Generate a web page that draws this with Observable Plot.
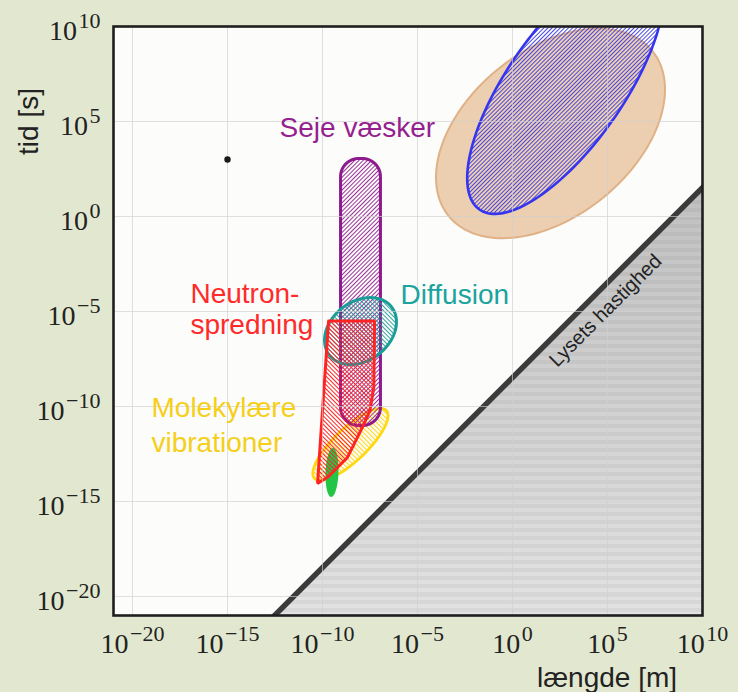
<!DOCTYPE html>
<html><head><meta charset="utf-8">
<script src="https://cdn.jsdelivr.net/npm/d3@7"></script>
<script src="https://cdn.jsdelivr.net/npm/@observablehq/plot@0.6"></script>
<style>
html,body{margin:0;padding:0;background:#e2e8d0;}
#chart{width:738px;height:692px;}
svg{display:block;}
</style></head><body><div id="chart"></div>
<script>
// ---- axes ----
const xDomain = [1e-21, 1e10];
const yDomain = [1e-21, 1e10];
const xTickExponents = [-20, -15, -10, -5, 0, 5, 10];
const yTickExponents = [-20, -15, -10, -5, 0, 5, 10];
const xLabel = "længde [m]";
const yLabel = "tid [s]";

// ---- ellipses (in log10 units: centre, semi-axes, tilt in degrees) ----
const ellipseNames = ["orange", "blue", "yellow", "green", "teal"];
const ellipseCenterLogL = [2.0, 2.79, -8.53, -9.5, -8.0];
const ellipseCenterLogT = [4.37, 6.84, -12.0, -13.47, -6.03];
const ellipseSemiMajor = [6.9, 7.9, 2.6, 1.29, 2.07];
const ellipseSemiMinor = [4.37, 3.05, 0.86, 0.34, 1.55];
const ellipseAngleDeg = [39, 55, 43.5, 88, 37.7];

// ---- viscous liquids: rounded bar (log10 units) ----
const liquidLogL = [-9.05, -6.95];
const liquidLogT = [-11.0, 3.05];
const liquidCornerRadius = 0.95;

// ---- neutron scattering outline (log10 units) ----
const neutronLogL = [-9.68, -7.26, -7.3, -7.5, -7.9, -8.7, -9.7, -10.26];
const neutronLogT = [-5.5, -5.5, -9.0, -10.2, -11.1, -12.7, -13.7, -14.05];

// ---- speed of light ----
const speedOfLight = 3e8;
const lightLengths = [1e-14, 1e11];
const lightLabel = "Lysets hastighed";
const lightLabelLogL = 4.89;
const lightLabelLogT = -4.95;

// ---- single point ----
const pointL = [1e-15];
const pointT = [1e3];

// ---- region labels ----
const labelTexts = ["Seje væsker", "Diffusion", "Neutron-\nspredning", "Molekylære\nvibrationer"];
const labelLogL = [-12.26, -5.89, -16.95, -19.0];
const labelLogT = [4.16, -4.58, -6.16, -12.42];
const labelColors = ["#951f8f", "#1ba39e", "#ff2a2a", "#f5cf1a"];

// ---- helpers to build outlines from the parameters ----
const p10 = v => Math.pow(10, v);
function ellipse(i) {
  const cx = ellipseCenterLogL[i], cy = ellipseCenterLogT[i];
  const a = ellipseSemiMajor[i], b = ellipseSemiMinor[i];
  const th = ellipseAngleDeg[i] * Math.PI / 180;
  const pts = [];
  for (let k = 0; k <= 160; k++) {
    const s = 2 * Math.PI * k / 160;
    const x = cx + a * Math.cos(s) * Math.cos(th) - b * Math.sin(s) * Math.sin(th);
    const y = cy + a * Math.cos(s) * Math.sin(th) + b * Math.sin(s) * Math.cos(th);
    pts.push({L: p10(x), t: p10(y)});
  }
  return pts;
}
function roundedBar() {
  const [x0, x1] = liquidLogL, [y0, y1] = liquidLogT, r = liquidCornerRadius;
  const pts = [];
  const corners = [
    [x1 - r, y1 - r, 0], [x0 + r, y1 - r, 90], [x0 + r, y0 + r, 180], [x1 - r, y0 + r, 270]
  ];
  for (const [cx, cy, a0] of corners) {
    for (let k = 0; k <= 20; k++) {
      const a = (a0 + 90 * k / 20) * Math.PI / 180;
      pts.push({L: p10(cx + r * Math.cos(a)), t: p10(cy + r * Math.sin(a))});
    }
  }
  pts.push(pts[0]);
  return pts;
}
const neutronPts = neutronLogL.map((l, i) => ({L: p10(l), t: p10(neutronLogT[i])}));
neutronPts.push(neutronPts[0]);

const expStr = e => "10^" + (e < 0 ? "\u2212" + (-e) : String(e));
const xTicks = xTickExponents.map(p10);
const yTicks = yTickExponents.map(p10);

const shapeStyle = {x: "L", y: "t", curve: "linear"};
const labelData = labelTexts.map((s, i) => ({s, L: p10(labelLogL[i]), t: p10(labelLogT[i]), c: labelColors[i]}));

const plot = Plot.plot({
  width: 738, height: 692,
  marginLeft: 113, marginRight: 36, marginTop: 26, marginBottom: 77,
  style: {background: "transparent", fontFamily: "Liberation Sans"},
  x: {type: "log", domain: xDomain},
  y: {type: "log", domain: yDomain},
  marks: [
    Plot.frame({fill: "#fcfcfb", stroke: "none"}),
    // region faster than light
    Plot.areaY([speedOfLight * yDomain[0], xDomain[1]], {x: d => d, y1: yDomain[0], y2: d => d / speedOfLight, fill: "url(#grayGrad)", clip: true}),
    Plot.areaY([speedOfLight * yDomain[0], xDomain[1]], {x: d => d, y1: yDomain[0], y2: d => d / speedOfLight, fill: "url(#stripes)", clip: true}),
    Plot.line(lightLengths, {x: d => d, y: d => d / speedOfLight, stroke: "#3b3b3b", strokeWidth: 5.5, clip: true}),
    // regions
    Plot.line(ellipse(0), {...shapeStyle, fill: "#ecceb1", stroke: "#e0b185", strokeWidth: 2, clip: true}),
    Plot.line(ellipse(1), {...shapeStyle, fill: "url(#hatchBlue)", stroke: "#3535f0", strokeWidth: 2.6, clip: true}),
    Plot.line(ellipse(2), {...shapeStyle, fill: "url(#hatchYellow)", stroke: "#ffd814", strokeWidth: 2.8}),
    Plot.line(ellipse(3), {...shapeStyle, fill: "#22c545", stroke: "none"}),
    Plot.line(roundedBar(), {...shapeStyle, fill: "url(#hatchPurple)", stroke: "#8e1b8e", strokeWidth: 3}),
    Plot.line(ellipse(4), {...shapeStyle, fill: "url(#hatchTeal)", stroke: "#1a9c98", strokeWidth: 3}),
    Plot.line(neutronPts, {...shapeStyle, fill: "url(#hatchRed)", stroke: "#ff2424", strokeWidth: 3, strokeLinejoin: "miter"}),
    // grid
    Plot.gridX(xTicks, {stroke: "#cfcfcf", strokeOpacity: 0.65, strokeWidth: 1}),
    Plot.gridY(yTicks, {stroke: "#cfcfcf", strokeOpacity: 0.65, strokeWidth: 1}),
    // point
    Plot.dot(pointL, {x: d => d, y: (d, i) => pointT[i], r: 3.2, fill: "#1a1a1a", stroke: "none"}),
    // region labels
    Plot.text(labelData.slice(0, 2), {x: "L", y: "t", text: "s", fill: "c", textAnchor: "start", lineAnchor: "bottom", fontSize: 28, fontFamily: "Liberation Sans"}),
    Plot.text(labelData.slice(2, 3), {x: "L", y: "t", text: "s", fill: "c", textAnchor: "start", lineAnchor: "bottom", fontSize: 28, lineHeight: 1.1, fontFamily: "Liberation Sans"}),
    Plot.text(labelData.slice(3, 4), {x: "L", y: "t", text: "s", fill: "c", textAnchor: "start", lineAnchor: "bottom", fontSize: 28, lineHeight: 1.25, fontFamily: "Liberation Sans"}),
    Plot.text([lightLabel], {x: () => p10(lightLabelLogL), y: () => p10(lightLabelLogT), text: d => d, rotate: -45, fontSize: 20, fill: "#222", fontFamily: "Liberation Sans"}),
    // axes
    Plot.axisX(xTicks, {tickSize: 0, tickPadding: 18, tickFormat: d => expStr(Math.round(Math.log10(d))), fontSize: 28, fontFamily: "Liberation Serif", fill: "#222", label: null}),
    Plot.axisY(yTicks, {tickSize: 0, tickPadding: 13, tickFormat: d => expStr(Math.round(Math.log10(d))), fontSize: 28, fontFamily: "Liberation Serif", fill: "#222", dy: 5, label: null}),
    Plot.text([yLabel], {frameAnchor: "top-left", dx: -84, dy: 95, rotate: -90, textAnchor: "middle", lineAnchor: "middle", fontSize: 28, fill: "#222", fontFamily: "Liberation Sans"}),
    Plot.text([xLabel], {frameAnchor: "bottom", dx: 199, dy: 71, textAnchor: "middle", lineAnchor: "bottom", fontSize: 28, fill: "#222", fontFamily: "Liberation Sans"}),
    Plot.frame({stroke: "#1f1f1f", strokeWidth: 2.6, fill: "none"})
  ]
});

// ---- defs: hatch patterns and gradient ----
const svg = d3.select(plot);
const defs = svg.insert("defs", ":first-child");
function hatch(id, color, angle, spacing, lw) {
  const p = defs.append("pattern").attr("id", id).attr("patternUnits", "userSpaceOnUse")
    .attr("width", spacing).attr("height", spacing).attr("patternTransform", `rotate(${angle})`);
  p.append("rect").attr("x", 0).attr("y", 0).attr("width", lw).attr("height", spacing).attr("fill", color);
}
hatch("hatchBlue", "#3a3ae6", 45, 2.9, 0.9);
hatch("hatchPurple", "#8e1b8e", 45, 3, 0.9);
hatch("hatchRed", "#ff2424", -45, 3, 1);
hatch("hatchTeal", "#1a9c98", -45, 3, 0.9);
hatch("hatchYellow", "#ffd814", -45, 3.3, 1);
const g = defs.append("linearGradient").attr("id", "grayGrad").attr("x1", 0).attr("y1", 0).attr("x2", 0).attr("y2", 1);
g.append("stop").attr("offset", 0).attr("stop-color", "#c0c0c0");
g.append("stop").attr("offset", 1).attr("stop-color", "#e2e2e2");
const st = defs.append("pattern").attr("id", "stripes").attr("patternUnits", "userSpaceOnUse").attr("width", 10).attr("height", 8);
st.append("rect").attr("x", 0).attr("y", 0).attr("width", 10).attr("height", 4).attr("fill", "#000").attr("fill-opacity", 0.045);

// ---- superscript tick labels ----
svg.selectAll('g[aria-label="x-axis tick label"] text, g[aria-label="y-axis tick label"] text').each(function () {
  const t = d3.select(this);
  const parts = t.text().split("^");
  if (parts.length !== 2) return;
  t.text(null);
  t.append("tspan").text(parts[0]);
  t.append("tspan").attr("dy", -12).attr("font-size", 22).attr("dx", 1.5).text(parts[1]);
});

document.getElementById("chart").appendChild(plot);
</script></body></html>
